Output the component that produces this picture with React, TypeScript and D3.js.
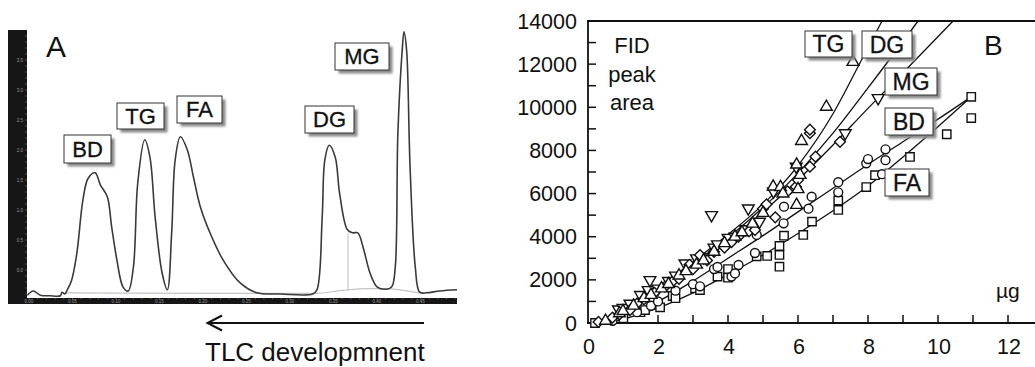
import React, { useEffect, useRef } from "react";
import * as d3 from "d3";

const FONT = "'Liberation Sans', Arial, Helvetica, sans-serif";

// ---------- Panel A: TLC-FID scan (Rf vs detector signal) ----------
const traceRf = [
  -0.002, 0.005, 0.013, 0.024, 0.036, 0.038, 0.041, 0.044, 0.049, 0.055, 0.062, 0.068, 0.076,
  0.082, 0.09, 0.095, 0.101, 0.108, 0.114, 0.12, 0.125, 0.133, 0.139, 0.145, 0.153, 0.159,
  0.164, 0.168, 0.174, 0.182, 0.189, 0.197, 0.208, 0.223, 0.243, 0.262, 0.289, 0.326, 0.331,
  0.337, 0.34, 0.345, 0.352, 0.357, 0.366, 0.372, 0.378, 0.384, 0.392, 0.4, 0.411, 0.417,
  0.421, 0.424, 0.429, 0.431, 0.434, 0.438, 0.444, 0.449, 0.457, 0.472, 0.492,
];
const traceSignal = [
  -0.42, -0.35, -0.42, -0.43, -0.43, -0.37, -0.4, -0.33, -0.17, 0.28, 1.17, 1.53, 1.62,
  1.42, 1.22, 0.72, 0.17, -0.28, -0.35, 0.05, 1.45, 2.17, 1.88, 0.88, -0.05, -0.33,
  0.62, 1.83, 2.22, 2.0, 1.55, 1.05, 0.62, 0.17, -0.22, -0.38, -0.4, -0.4, -0.33,
  0.88, 1.83, 2.08, 1.88, 1.28, 0.67, 0.62, 0.62, 0.38, -0.05, -0.28, -0.32, -0.28,
  0.05, 2.28, 3.67, 3.97, 3.67, 1.72, 0.05, -0.37, -0.38, -0.35, -0.33,
];
const baselineRf = [0.041, 0.2, 0.33, 0.36, 0.39, 0.41, 0.43, 0.452];
const baselineSignal = [-0.38, -0.39, -0.39, -0.34, -0.31, -0.31, -0.34, -0.39];
const dropRf = 0.3667;
const dropSignal = [-0.35, 0.62];

const aYTicks = [0, 0.5, 1.0, 1.5, 2.0, 2.5, 3.0, 3.5];
const aXTicks = [0, 0.05, 0.1, 0.15, 0.2, 0.25, 0.3, 0.35, 0.4, 0.45];
const aPeaks = ["BD", "TG", "FA", "DG", "MG"];

// ---------- Panel B: FID peak area vs load (µg) ----------
const tgMass = [0.5, 0.9, 1.0, 1.3, 1.6, 1.8, 2.1, 2.3, 2.6, 2.8, 3.1, 3.3, 3.6, 3.9, 4.2, 4.4, 4.7, 5.0, 5.29, 5.5, 5.57, 5.96, 5.96, 6.06, 6.1, 6.0, 6.81, 7.57];
const tgArea = [100, 450, 550, 800, 1150, 1300, 1600, 1800, 2200, 2400, 2700, 2900, 3300, 3700, 4000, 4200, 4600, 5100, 6320, 6300, 6000, 5470, 7340, 6860, 8435, 6200, 10020, 12100];

const dgMass = [0.3, 0.7, 0.9, 1.2, 1.4, 1.6, 1.9, 2.2, 2.4, 2.6, 2.9, 3.0, 3.2, 3.4, 3.6, 3.9, 4.1, 4.3, 4.6, 4.77, 5.0, 5.1, 5.35, 5.7, 5.94, 6.0, 6.34, 6.5, 6.34, 6.34, 7.2];
const dgArea = [50, 250, 400, 600, 900, 1100, 1400, 1685, 1900, 2050, 2700, 2500, 3150, 2900, 3300, 3500, 3750, 4000, 4250, 4311, 5300, 5500, 4900, 6100, 6320, 6630, 7247, 7710, 8800, 8960, 8400];

const mgMass = [0.87, 1.0, 1.2, 1.5, 1.72, 1.77, 2.0, 2.3, 2.5, 2.77, 3.1, 3.3, 3.53, 3.6, 3.7, 4.0, 4.2, 4.5, 4.58, 4.9, 5.3, 5.95, 7.35, 8.29];
const mgArea = [634, 700, 900, 1300, 1530, 1993, 1600, 1950, 2200, 2766, 3000, 3050, 5007, 3500, 3650, 3950, 4000, 4350, 5316, 4700, 6100, 7250, 8800, 10431];

const bdMass = [0.7, 1.4, 1.8, 2.0, 2.5, 3.0, 3.2, 3.6, 3.7, 4.1, 4.3, 4.2, 4.77, 4.82, 5.59, 5.6, 6.39, 6.3, 7.15, 7.15, 7.95, 8.0, 8.5, 8.5, 8.4];
const bdArea = [100, 500, 800, 1000, 1500, 1800, 1700, 2500, 2600, 2150, 2689, 2300, 3245, 4080, 4622, 5393, 5857, 5300, 6530, 6060, 7400, 7600, 8050, 7550, 6900];

const faMass = [0.2, 1.01, 1.5, 1.63, 2.06, 2.42, 2.5, 3.06, 3.2, 3.7, 4.0, 4.0, 4.82, 5.12, 5.47, 5.47, 5.47, 5.6, 6.15, 6.4, 7.15, 7.15, 7.95, 8.2, 9.2, 10.25, 10.95, 10.95];
const faArea = [0, 216, 500, 600, 726, 1252, 1150, 1607, 1530, 2150, 2100, 2500, 3090, 3107, 3570, 3153, 2612, 4049, 4080, 4700, 5680, 5240, 6300, 6850, 7700, 8750, 9500, 10485];

// fitted calibration curves
const tgFitMass = [0.3, 1, 2, 3, 4, 5, 6, 7, 7.77, 8.4];
const tgFitArea = [0, 450, 1600, 2850, 4100, 5500, 7300, 9700, 12050, 14000];
const dgFitMass = [0.35, 1, 2, 3, 4, 5, 6, 7, 8, 9, 9.43];
const dgFitArea = [0, 420, 1550, 2750, 3950, 5350, 6950, 8800, 10900, 13050, 14000];
const mgFitMass = [0.35, 1, 2, 3, 4, 5, 6, 7, 8, 9, 10.43];
const mgFitArea = [0, 400, 1500, 2650, 3800, 5150, 6630, 8250, 9950, 11600, 14000];
const bdFitMass = [0.4, 1, 2, 3, 4, 5, 6, 7, 8, 9, 10, 10.95];
const bdFitArea = [0, 300, 1000, 1950, 3000, 4050, 5150, 6250, 7350, 8400, 9450, 10485];
const faFitMass = [0.5, 1, 2, 3, 4, 5, 6, 7, 8, 9, 10, 10.95];
const faFitArea = [0, 180, 700, 1400, 2250, 3150, 4150, 5200, 6350, 7700, 9100, 10485];

const bYTicks = d3.range(0, 14001, 2000);
const bYMinor = d3.range(0, 14001, 1000);
const bXTicks = [0, 2, 4, 6, 8, 10, 12];
const bXMinor = d3.range(1, 13, 1);

const W = 1035;
const H = 367;

// label box layout (pixels)
const aBoxes: Record<string, [number, number, number, number]> = {
  BD: [64, 135, 47, 28],
  TG: [117, 103, 47, 26],
  FA: [177, 96, 45, 27],
  DG: [305, 106, 49, 27],
  MG: [335, 43, 54, 27],
};
const bBoxes: Record<string, [number, number, number, number]> = {
  TG: [805, 31, 47, 26],
  DG: [862, 31, 50, 27],
  MG: [885, 68, 52, 27],
  BD: [885, 108, 48, 27],
  FA: [885, 169, 44, 27],
};

const App: React.FC = () => {
  const svgRef = useRef<SVGSVGElement | null>(null);

  useEffect(() => {
    if (!svgRef.current) return;
    const svg = d3.select(svgRef.current);
    svg.selectAll("*").remove();

    const defs = svg.append("defs");
    defs
      .append("filter")
      .attr("id", "shadow")
      .attr("x", "-20%")
      .attr("y", "-20%")
      .attr("width", "150%")
      .attr("height", "150%")
      .append("feGaussianBlur")
      .attr("stdDeviation", 1.2);

    const drawBox = (g: any, label: string, b: [number, number, number, number], fs: number) => {
      const [x, y, w, h] = b;
      g.append("rect")
        .attr("x", x + 3.5)
        .attr("y", y + 3.5)
        .attr("width", w)
        .attr("height", h)
        .attr("fill", "#8a8a8a")
        .attr("filter", "url(#shadow)");
      g.append("rect")
        .attr("x", x)
        .attr("y", y)
        .attr("width", w)
        .attr("height", h)
        .attr("fill", "#fff")
        .attr("stroke", "#333")
        .attr("stroke-width", 1);
      g.append("text")
        .attr("x", x + w / 2)
        .attr("y", y + h / 2 + fs * 0.36)
        .attr("text-anchor", "middle")
        .style("font-family", FONT)
        .style("font-size", `${fs}px`)
        .attr("fill", "#111")
        .attr("stroke", "#111")
        .attr("stroke-width", 0.3)
        .text(label);
    };

    // ================= Panel A =================
    const ga = svg.append("g");
    const xA = d3.scaleLinear().domain([0, 0.45]).range([29, 420.5]);
    const yA = d3.scaleLinear().domain([0, 3.5]).range([270, 60]);

    // black frame bars
    ga.append("rect").attr("x", 8).attr("y", 30).attr("width", 19).attr("height", 274).attr("fill", "#161616");
    ga.append("rect").attr("x", 8).attr("y", 298).attr("width", 449).attr("height", 6).attr("fill", "#161616");

    // tiny tick marks / labels on the bars
    d3.range(-0.4, 4.01, 0.1).forEach((v) => {
      if (yA(v) < 31 || yA(v) > 297) return;
      ga.append("line")
        .attr("x1", 25)
        .attr("x2", 27)
        .attr("y1", yA(v))
        .attr("y2", yA(v))
        .attr("stroke", "#777")
        .attr("stroke-width", 0.6);
    });
    aYTicks.forEach((v) => {
      ga.append("text")
        .attr("x", 23)
        .attr("y", yA(v) + 1.5)
        .attr("text-anchor", "end")
        .style("font-family", FONT)
        .style("font-size", "4.5px")
        .attr("fill", "#9a9a9a")
        .text(v.toFixed(1));
    });
    d3.range(0, 0.491, 0.01).forEach((v) => {
      ga.append("line")
        .attr("x1", xA(v))
        .attr("x2", xA(v))
        .attr("y1", 298)
        .attr("y2", 299.5)
        .attr("stroke", "#777")
        .attr("stroke-width", 0.6);
    });
    aXTicks.forEach((v) => {
      ga.append("text")
        .attr("x", xA(v))
        .attr("y", 302.8)
        .attr("text-anchor", "middle")
        .style("font-family", FONT)
        .style("font-size", "4.5px")
        .attr("fill", "#9a9a9a")
        .text(v.toFixed(2));
    });

    // integration baseline + drop line
    const baseLine = d3
      .line<number>()
      .x((d) => xA(d))
      .y((_, i) => yA(baselineSignal[i]))
      .curve(d3.curveMonotoneX);
    ga.append("path")
      .attr("d", baseLine(baselineRf))
      .attr("fill", "none")
      .attr("stroke", "#c4c4c4")
      .attr("stroke-width", 1.2);
    ga.append("line")
      .attr("x1", xA(dropRf))
      .attr("x2", xA(dropRf))
      .attr("y1", yA(dropSignal[0]))
      .attr("y2", yA(dropSignal[1]))
      .attr("stroke", "#bdbdbd")
      .attr("stroke-width", 1);

    // the scan trace
    const traceLine = d3
      .line<number>()
      .x((d) => xA(d))
      .y((_, i) => yA(traceSignal[i]))
      .curve(d3.curveCatmullRom.alpha(0.5));
    ga.append("path")
      .attr("d", traceLine(traceRf))
      .attr("fill", "none")
      .attr("stroke", "#3a3a3a")
      .attr("stroke-width", 1.6);

    ga.append("text")
      .attr("x", 46)
      .attr("y", 57)
      .style("font-family", FONT)
      .style("font-size", "30px")
      .attr("fill", "#111")
      .text("A");

    aPeaks.forEach((p) => drawBox(ga, p, aBoxes[p], 22));

    // development arrow
    ga.append("line")
      .attr("x1", 424)
      .attr("x2", 208)
      .attr("y1", 323)
      .attr("y2", 323)
      .attr("stroke", "#111")
      .attr("stroke-width", 2);
    ga.append("path")
      .attr("d", "M222,315.5 L207.5,323 L222,330.5")
      .attr("fill", "none")
      .attr("stroke", "#111")
      .attr("stroke-width", 2);
    ga.append("text")
      .attr("x", 205)
      .attr("y", 361)
      .style("font-family", FONT)
      .style("font-size", "26px")
      .attr("fill", "#111")
      .text("TLC developmnent");

    // ================= Panel B =================
    const gb = svg.append("g");
    const xB = d3.scaleLinear().domain([0, 12]).range([588, 1008]);
    const yB = d3.scaleLinear().domain([0, 14000]).range([323, 21]);

    // frame
    gb.append("line").attr("x1", 588).attr("x2", 588).attr("y1", 20).attr("y2", 324).attr("stroke", "#111").attr("stroke-width", 1.8);
    gb.append("line").attr("x1", 587).attr("x2", W).attr("y1", yB(14000)).attr("y2", yB(14000)).attr("stroke", "#111").attr("stroke-width", 1.8);
    gb.append("line").attr("x1", 587).attr("x2", W).attr("y1", yB(0)).attr("y2", yB(0)).attr("stroke", "#111").attr("stroke-width", 1.8);

    bYMinor.forEach((v) => {
      gb.append("line")
        .attr("x1", 588)
        .attr("x2", 596)
        .attr("y1", yB(v))
        .attr("y2", yB(v))
        .attr("stroke", "#111")
        .attr("stroke-width", 1.5);
    });
    bXMinor.forEach((v) => {
      gb.append("line")
        .attr("x1", xB(v))
        .attr("x2", xB(v))
        .attr("y1", yB(0))
        .attr("y2", yB(0) - 8)
        .attr("stroke", "#111")
        .attr("stroke-width", 1.5);
    });
    bYTicks.forEach((v) => {
      gb.append("text")
        .attr("x", 577)
        .attr("y", yB(v) + 7.5)
        .attr("text-anchor", "end")
        .style("font-family", FONT)
        .style("font-size", "21.5px")
        .attr("fill", "#111")
        .text(String(v));
    });
    bXTicks.forEach((v) => {
      gb.append("text")
        .attr("x", xB(v) + 1)
        .attr("y", 354)
        .attr("text-anchor", "middle")
        .style("font-family", FONT)
        .style("font-size", "21.5px")
        .attr("fill", "#111")
        .text(String(v));
    });

    // fitted curves
    const fits: [number[], number[]][] = [
      [tgFitMass, tgFitArea],
      [dgFitMass, dgFitArea],
      [mgFitMass, mgFitArea],
      [bdFitMass, bdFitArea],
      [faFitMass, faFitArea],
    ];
    fits.forEach(([xs, ys]) => {
      const line = d3
        .line<number>()
        .x((d) => xB(d))
        .y((_, i) => yB(ys[i]))
        .curve(d3.curveMonotoneX);
      gb.append("path")
        .attr("d", line(xs))
        .attr("fill", "none")
        .attr("stroke", "#111")
        .attr("stroke-width", 1.3);
    });

    // scatter markers
    const series: { xs: number[]; ys: number[]; type: d3.SymbolType; size: number; rot: number }[] = [
      { xs: faMass, ys: faArea, type: d3.symbolSquare, size: 70, rot: 0 },
      { xs: bdMass, ys: bdArea, type: d3.symbolCircle, size: 62, rot: 0 },
      { xs: mgMass, ys: mgArea, type: d3.symbolTriangle, size: 60, rot: 180 },
      { xs: dgMass, ys: dgArea, type: d3.symbolSquare, size: 58, rot: 45 },
      { xs: tgMass, ys: tgArea, type: d3.symbolTriangle, size: 60, rot: 0 },
    ];
    series.forEach((s) => {
      const sym = d3.symbol().type(s.type).size(s.size);
      s.xs.forEach((m, i) => {
        gb.append("path")
          .attr("d", sym() as string)
          .attr("transform", `translate(${xB(m)},${yB(s.ys[i])}) rotate(${s.rot})`)
          .attr("fill", "#fff")
          .attr("stroke", "#111")
          .attr("stroke-width", 1.4);
      });
    });

    // annotations
    const fidLines = ["FID", "peak", "area"];
    fidLines.forEach((t, i) => {
      gb.append("text")
        .attr("x", 632)
        .attr("y", 53 + i * 28.5)
        .attr("text-anchor", "middle")
        .style("font-family", FONT)
        .style("font-size", "22px")
        .attr("fill", "#111")
        .text(t);
    });
    gb.append("text")
      .attr("x", 984)
      .attr("y", 55)
      .style("font-family", FONT)
      .style("font-size", "28px")
      .attr("fill", "#111")
      .text("B");
    gb.append("text")
      .attr("x", 996)
      .attr("y", 298)
      .style("font-family", FONT)
      .style("font-size", "21px")
      .attr("fill", "#111")
      .text("µg");

    ["TG", "DG", "MG", "BD", "FA"].forEach((p) => drawBox(gb, p, bBoxes[p], 23));
  }, []);

  return (
    <svg
      ref={svgRef}
      width={W}
      height={H}
      style={{ position: "absolute", left: 0, top: 0, background: "#fff", display: "block" }}
    />
  );
};

export default App;
